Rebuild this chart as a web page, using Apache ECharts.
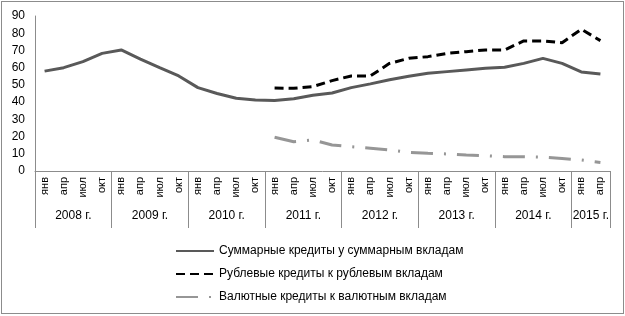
<!DOCTYPE html>
<html>
<head>
<meta charset="utf-8">
<script src="https://cdn.jsdelivr.net/npm/echarts@6/dist/echarts.min.js"></script>
<style>
  html, body { margin: 0; padding: 0; background: #fff; }
  #chart { width: 625px; height: 316px; position: absolute; left: 0; top: 0; }
  #frame { position: absolute; left: 1px; top: 1px; width: 621px; height: 311px; border: 1px solid #8c8c8c; pointer-events: none; }
</style>
</head>
<body>
<div id="chart"></div>
<div id="frame"></div>
<script>
// месяцы (квартальные точки)
var months = [
  'янв','апр','июл','окт', 'янв','апр','июл','окт', 'янв','апр','июл','окт',
  'янв','апр','июл','окт', 'янв','апр','июл','окт', 'янв','апр','июл','окт',
  'янв','апр','июл','окт', 'янв','апр'
];
var years = ['2008 г.','2009 г.','2010 г.','2011 г.','2012 г.','2013 г.','2014 г.','2015 г.'];
var pointsPerYear = [4, 4, 4, 4, 4, 4, 4, 2];
var yTicks = [0, 10, 20, 30, 40, 50, 60, 70, 80, 90];

var totalRatio = [
  58, 60, 63.5, 68.3, 70.3, 65, 60, 55.2, 48.4, 45, 42.2, 41.2,
  41, 42, 44, 45.3, 48.4, 50.6, 53, 55, 56.7, 57.7, 58.7, 59.6,
  60.2, 62.5, 65.4, 62.5, 57.5, 56.3
];
var rubRatio = [
  '-', '-', '-', '-', '-', '-', '-', '-', '-', '-', '-', '-',
  48.2, 48, 49, 52.5, 55.2, 55.2, 62.5, 65.4, 66.4, 68.3, 69.3, 70.3,
  70.3, 75.5, 75.5, 74.5, 82.3, 75.7
];
var fxRatio = [
  '-', '-', '-', '-', '-', '-', '-', '-', '-', '-', '-', '-',
  19.6, 17, 18, 15.1, 14.1, 13.2, 12.2, 10.8, 10.3, 9.9, 9.3, 8.9,
  8.3, 8.3, 8, 7.3, 6.4, 5
];

// границы и середины годов на оси
var yearBounds = [0], yearMids = [];
pointsPerYear.forEach(function (n, i) {
  yearMids.push(yearBounds[i] + n / 2);
  yearBounds.push(yearBounds[i] + n);
});

var font = 'Liberation Sans';
var chart = echarts.init(document.getElementById('chart'));
chart.setOption({
  animation: false,
  textStyle: { fontFamily: font },
  grid: { left: 35, right: 15, top: 16, bottom: 145 },
  legend: {
    orient: 'vertical',
    left: 170,
    top: 240,
    itemWidth: 38,
    itemHeight: 14,
    itemGap: 11,
    itemStyle: { opacity: 0 },
    textStyle: { fontFamily: font, fontSize: 12, color: '#000' },
    data: ['Суммарные кредиты у суммарным вкладам', 'Рублевые кредиты к рублевым вкладам', 'Валютные кредиты к валютным вкладам']
  },
  xAxis: [
    {
      type: 'category',
      data: months,
      boundaryGap: true,
      axisLine: { lineStyle: { color: '#8c8c8c', width: 1 } },
      axisTick: { show: false },
      axisLabel: { rotate: 90, fontSize: 11, color: '#000', margin: 6, interval: 0 }
    },
    {
      type: 'value',
      position: 'bottom',
      offset: 0,
      min: 0,
      max: months.length,
      axisLine: { show: false },
      splitLine: { show: false },
      axisTick: {
        show: true,
        customValues: yearBounds,
        length: 57,
        lineStyle: { color: '#8c8c8c', width: 1 }
      },
      axisLabel: {
        customValues: yearMids,
        fontSize: 12,
        color: '#000',
        margin: 39,
        formatter: function (v) { return years[yearMids.indexOf(v)]; }
      }
    }
  ],
  yAxis: {
    type: 'value',
    min: 0,
    max: 90,
    interval: 10,
    axisLine: { show: true, lineStyle: { color: '#8c8c8c', width: 1 } },
    axisTick: { show: false },
    splitLine: { show: false },
    axisLabel: {
      fontSize: 12, color: '#000', margin: 10,
      formatter: function (v) { return yTicks.indexOf(v) >= 0 ? String(v) : ''; }
    }
  },
  series: [
    {
      name: 'Суммарные кредиты у суммарным вкладам',
      type: 'line',
      data: totalRatio,
      symbol: 'none',
      lineStyle: { color: '#595959', width: 3 },
      itemStyle: { color: '#595959' }
    },
    {
      name: 'Рублевые кредиты к рублевым вкладам',
      type: 'line',
      data: rubRatio,
      symbol: 'none',
      lineStyle: { color: '#000', width: 3, type: [9, 5] },
      itemStyle: { color: '#000' }
    },
    {
      name: 'Валютные кредиты к валютным вкладам',
      type: 'line',
      data: fxRatio,
      symbol: 'none',
      lineStyle: { color: '#969696', width: 3, type: [22, 11, 2, 11] },
      itemStyle: { color: '#969696' }
    }
  ]
});
</script>
</body>
</html>
